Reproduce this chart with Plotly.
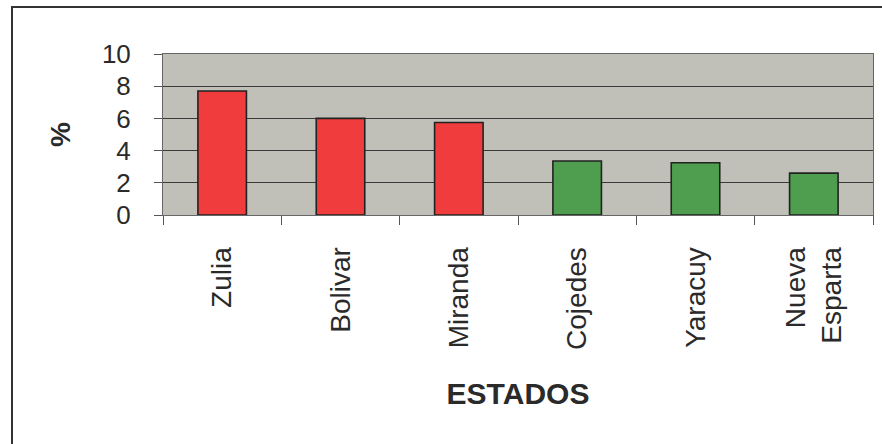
import plotly.graph_objects as go

estados = ["Zulia", "Bolivar", "Miranda", "Cojedes", "Yaracuy", "Nueva<br>Esparta"]
porcentajes = [7.7, 6.0, 5.75, 3.35, 3.25, 2.6]
grupo = ["alto", "alto", "alto", "bajo", "bajo", "bajo"]
y_ticks = [0, 2, 4, 6, 8, 10]

color_map = {"alto": "#f03c3c", "bajo": "#4f9e4f"}
colors = [color_map[g] for g in grupo]

W, H = 882, 444
L, R, T, B = 163, 873, 54, 215

fig = go.Figure(go.Bar(
    x=estados, y=porcentajes,
    marker=dict(color=colors, line=dict(color="#222222", width=1.6)),
    width=0.41,
))

font_family = "Liberation Sans, Arial, sans-serif"
txt = "#2a2a2a"

fig.update_layout(
    width=W, height=H,
    margin=dict(l=L, r=W - R, t=T, b=H - B, pad=0),
    paper_bgcolor="white",
    plot_bgcolor="#c0c0b8",
    showlegend=False,
    font=dict(family=font_family, color=txt),
    xaxis=dict(
        type="category",
        tickson="boundaries",
        ticks="outside", ticklen=9, tickcolor="#555555", tickwidth=1,
        tickangle=-90,
        tickfont=dict(size=28, color=txt),
        ticklabelstandoff=20,
        showline=True, linecolor="#666666", linewidth=1, mirror=True,
        showgrid=False,
        title=dict(text="<b>ESTADOS</b>", font=dict(size=30, color=txt), standoff=34),
    ),
    yaxis=dict(
        range=[0, 10], tickvals=y_ticks,
        ticks="outside", ticklen=8, tickcolor="#555555", tickwidth=1,
        tickfont=dict(size=26, color=txt),
        ticklabelstandoff=18,
        showline=True, linecolor="#666666", linewidth=1, mirror=True,
        showgrid=True, gridcolor="#3a3a3a", gridwidth=1.2,
        zeroline=False,
        title=dict(text="<b>%</b>", font=dict(size=28, color=txt), standoff=23),
    ),
)

# outer chart frame
px2x = lambda px: (px - L) / (R - L)
px2y = lambda py: (B - py) / (B - T)
fig.add_shape(type="rect", xref="paper", yref="paper",
              x0=px2x(12), x1=px2x(900), y0=px2y(7), y1=px2y(470),
              line=dict(color="#333333", width=2), fillcolor="rgba(0,0,0,0)", layer="below")

fig.write_html("out.html", config={"displayModeBar": False},
               post_script="document.body.style.margin='0px';")
